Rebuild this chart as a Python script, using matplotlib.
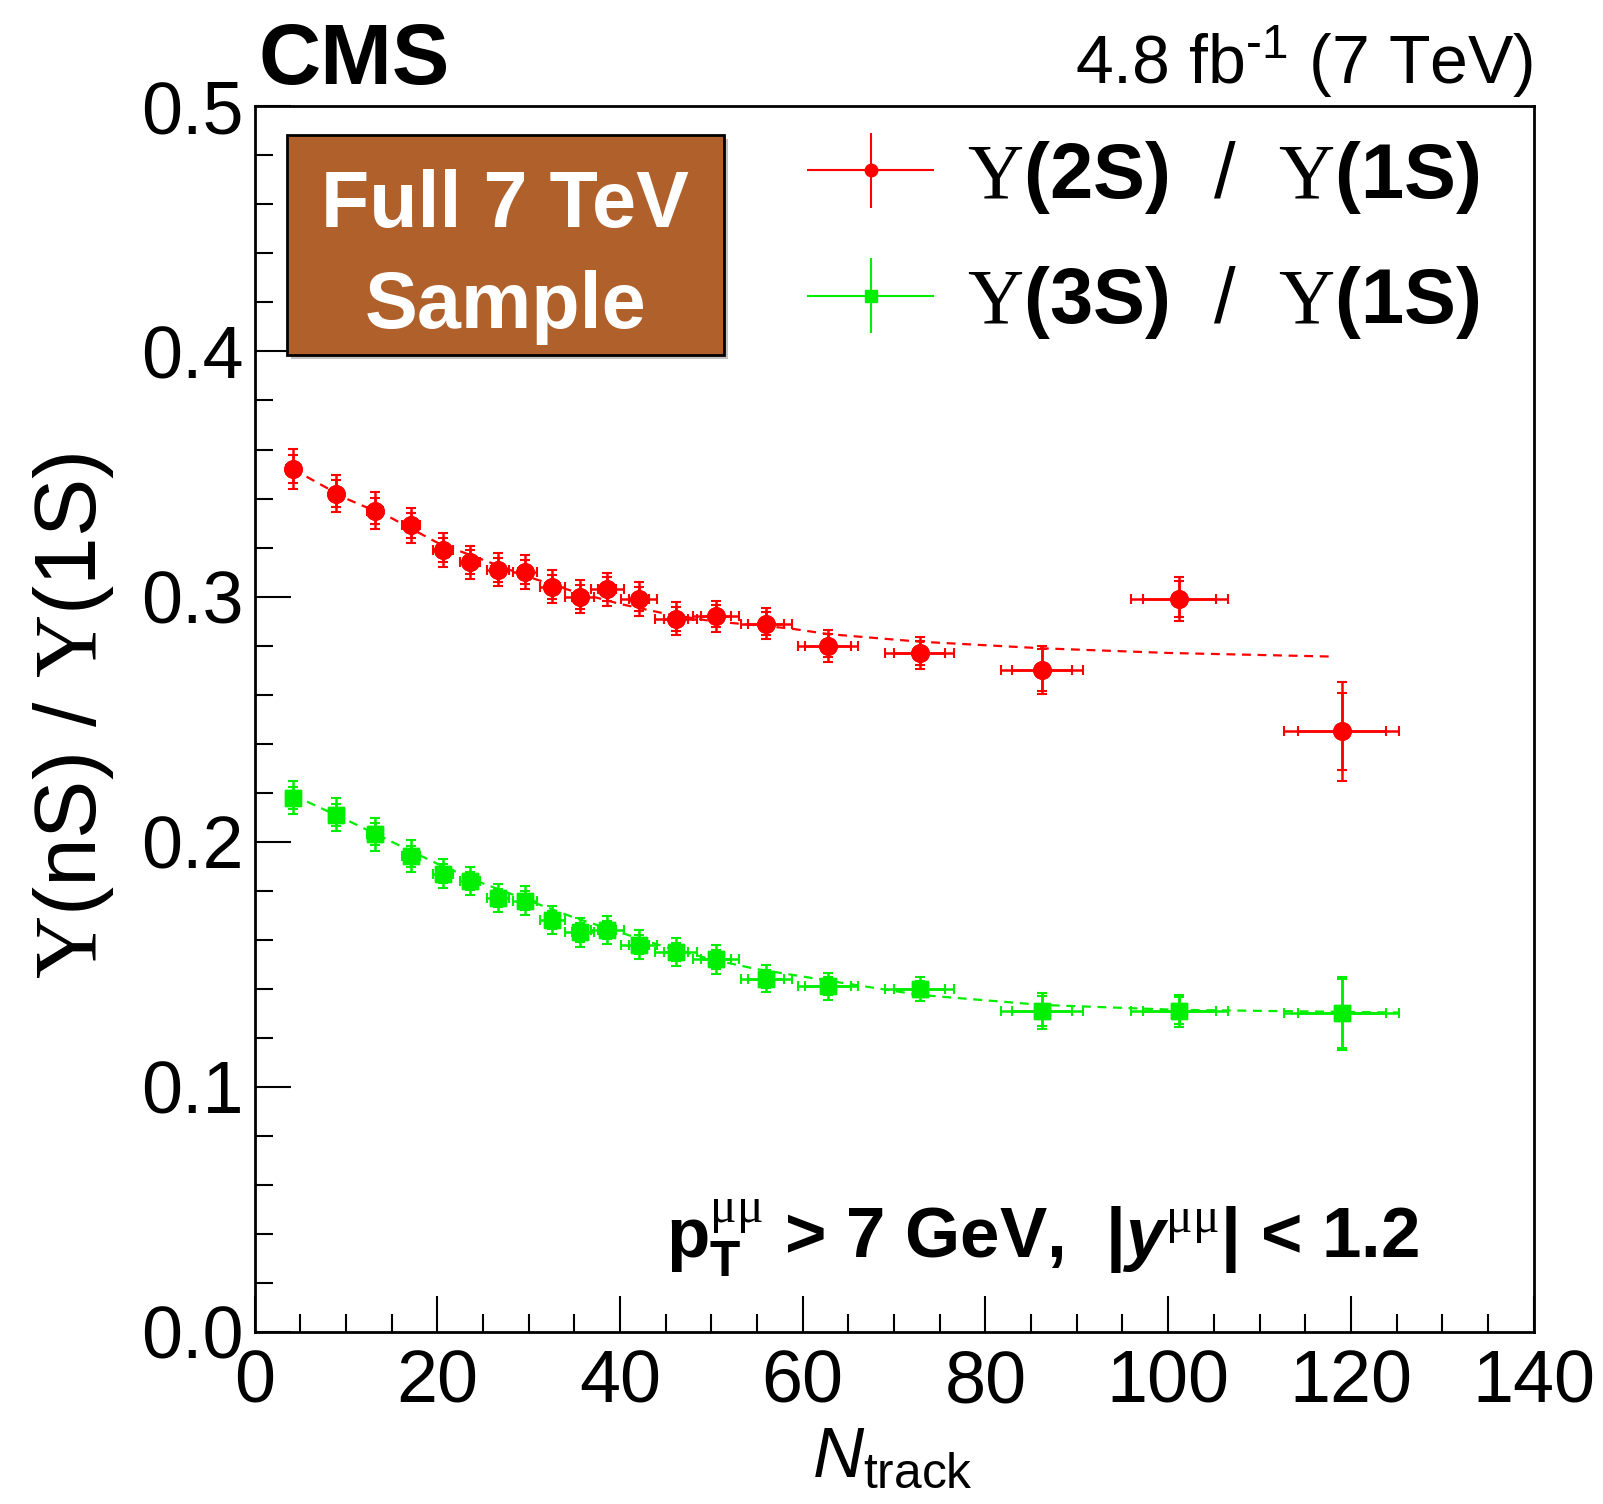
import numpy as np
import matplotlib
matplotlib.use("Agg")
import matplotlib.pyplot as plt
from matplotlib.patches import Rectangle
from matplotlib.legend_handler import HandlerErrorbar
from matplotlib.ticker import MultipleLocator, FormatStrFormatter

plt.rcParams["font.family"] = ["Liberation Sans", "DejaVu Sans"]
plt.rcParams["mathtext.fontset"] = "custom"
plt.rcParams["mathtext.rm"] = "Liberation Serif"
plt.rcParams["mathtext.bf"] = "Liberation Sans:bold"
plt.rcParams["mathtext.it"] = "Liberation Sans:italic"
plt.rcParams["mathtext.sf"] = "Liberation Sans"
plt.rcParams["mathtext.bfit"] = "Liberation Sans:italic:bold"

# N_track bin centres (shared by both ratios)
ntrack = [4.2, 8.9, 13.2, 17.1, 20.6, 23.6, 26.6, 29.6, 32.6, 35.6,
          38.6, 42.1, 46.1, 50.5, 56.0, 62.8, 72.8, 86.2, 101.2, 119.0]
ntrack_err_out = [0.8, 0.8, 0.9, 1.0, 1.1, 1.1, 1.2, 1.3, 1.4, 1.6,
                  1.8, 2.0, 2.3, 2.5, 2.8, 3.3, 3.8, 4.5, 5.3, 6.3]
ntrack_err_in = [0.5, 0.5, 0.5, 0.6, 0.6, 0.7, 0.7, 0.8, 0.8, 0.9,
                 1.0, 1.1, 1.3, 1.6, 2.0, 2.5, 2.8, 3.3, 4.0, 4.8]

# Y(2S)/Y(1S)
r21 = [0.352, 0.342, 0.335, 0.329, 0.319, 0.314, 0.311, 0.310, 0.304, 0.300,
       0.303, 0.299, 0.291, 0.292, 0.289, 0.280, 0.277, 0.270, 0.299, 0.245]
r21_tot = [0.0082, 0.0075, 0.0075, 0.0072, 0.0070, 0.0068, 0.0068, 0.0068, 0.0068, 0.0068,
           0.0068, 0.0068, 0.0068, 0.0063, 0.0063, 0.0065, 0.0067, 0.0099, 0.0088, 0.0203]
r21_stat = [0.0058, 0.0054, 0.0054, 0.0052, 0.0050, 0.0049, 0.0049, 0.0049, 0.0049, 0.0049,
            0.0049, 0.0049, 0.0049, 0.0046, 0.0046, 0.0048, 0.0050, 0.0085, 0.0075, 0.0158]

# Y(3S)/Y(1S)
r31 = [0.218, 0.211, 0.203, 0.194, 0.187, 0.184, 0.177, 0.176, 0.168, 0.163,
       0.164, 0.158, 0.155, 0.152, 0.144, 0.141, 0.140, 0.131, 0.131, 0.130]
r31_tot = [0.0069, 0.0068, 0.0068, 0.0065, 0.0060, 0.0058, 0.0058, 0.0058, 0.0058, 0.0058,
           0.0058, 0.0058, 0.0058, 0.0058, 0.0055, 0.0055, 0.0050, 0.0073, 0.0065, 0.0150]
r31_stat = [0.0045, 0.0045, 0.0045, 0.0043, 0.0040, 0.0038, 0.0038, 0.0038, 0.0038, 0.0038,
            0.0038, 0.0038, 0.0038, 0.0038, 0.0036, 0.0036, 0.0033, 0.0060, 0.0055, 0.0140]

# dashed fit curves
fit21_x = [4.2, 10, 15, 20, 25, 30, 35, 40, 45, 50, 58.6, 62.8, 72.8, 86.2, 100, 118.2]
fit21_y = [0.352, 0.340, 0.332, 0.322, 0.315, 0.308, 0.302, 0.297, 0.293, 0.290,
           0.287, 0.2847, 0.2816, 0.2789, 0.277, 0.2755]
fit31_x = [4.2, 10, 15, 20, 25, 30, 35, 40, 45, 50, 55, 60, 65, 72.8, 86.2, 101, 125.2]
fit31_y = [0.219, 0.209, 0.200, 0.191, 0.183, 0.176, 0.169, 0.163, 0.157, 0.152,
           0.148, 0.145, 0.142, 0.1375, 0.1334, 0.1314, 0.1303]

RED = "#ff0000"
GREEN = "#00ee00"

fig = plt.figure(figsize=(16.03, 15.04), dpi=100)
ax = fig.add_axes([0.1588, 0.1144, 0.7979, 0.8149])

ax.plot(fit21_x, fit21_y, ls=(0, (4, 3)), color=RED, lw=1.6)
ax.plot(fit31_x, fit31_y, ls=(0, (4, 3)), color=GREEN, lw=1.6)

for y, tot, stat, col, mk, ms in [(r21, r21_tot, r21_stat, RED, "o", 12.5),
                                  (r31, r31_tot, r31_stat, GREEN, "s", 11)]:
    ax.errorbar(ntrack, y, xerr=ntrack_err_out, yerr=tot, fmt=mk, color=col, ms=ms,
                elinewidth=1.8, capsize=3.5, capthick=1.5)
    ax.errorbar(ntrack, y, xerr=ntrack_err_in, yerr=stat, fmt=mk, color=col, ms=ms,
                elinewidth=1.8, capsize=3.5, capthick=1.5)

# legend proxies (no caps, like the original)
h21 = ax.errorbar([np.nan], [np.nan], xerr=[1], yerr=[1], fmt="o", color=RED, ms=9,
                  elinewidth=1.5, capsize=0,
                  label=r"$\mathrm{Υ}\mathbf{(2S)}$  $\mathsf{/}$  $\mathrm{Υ}\mathbf{(1S)}$")
h31 = ax.errorbar([np.nan], [np.nan], xerr=[1], yerr=[1], fmt="s", color=GREEN, ms=9,
                  elinewidth=1.5, capsize=0,
                  label=r"$\mathrm{Υ}\mathbf{(3S)}$  $\mathsf{/}$  $\mathrm{Υ}\mathbf{(1S)}$")
hm = HandlerErrorbar(xerr_size=0.82, yerr_size=0.48)
ax.legend(handles=[h21, h31], handler_map={h21: hm, h31: hm},
          loc="upper right", bbox_to_anchor=(0.9815, 0.999), frameon=False,
          prop={"family": "Liberation Sans", "weight": "bold", "size": 56},
          handlelength=1.67, handletextpad=0.4, labelspacing=0.62, borderaxespad=0)

ax.set_xlim(0, 140)
ax.set_ylim(0, 0.5)
ax.xaxis.set_major_locator(MultipleLocator(20))
ax.xaxis.set_minor_locator(MultipleLocator(5))
ax.yaxis.set_major_locator(MultipleLocator(0.1))
ax.yaxis.set_minor_locator(MultipleLocator(0.02))
ax.yaxis.set_major_formatter(FormatStrFormatter("%.1f"))
ax.tick_params(which="both", direction="in", top=False, right=False, width=1.5)
ax.tick_params(which="major", length=26, labelsize=53)
ax.tick_params(which="minor", length=13)
ax.tick_params(axis="x", which="major", pad=12)
ax.tick_params(axis="y", which="major", pad=8)
for s in ax.spines.values():
    s.set_linewidth(2)

# "Full 7 TeV Sample" box with a little shadow
ax.add_patch(Rectangle((0.0283, 0.7936), 0.3417, 0.1795, transform=ax.transAxes,
                       facecolor="#888888", edgecolor="none", alpha=0.5, zorder=4))
ax.add_patch(Rectangle((0.0253, 0.797), 0.3417, 0.1796, transform=ax.transAxes,
                       facecolor="#b0602b", edgecolor="black", lw=2, zorder=5))
ax.text(0.196, 0.918, "Full 7 TeV", transform=ax.transAxes, ha="center", va="center",
        color="white", fontsize=57, fontweight="bold", zorder=6)
ax.text(0.196, 0.836, "Sample", transform=ax.transAxes, ha="center", va="center",
        color="white", fontsize=57, fontweight="bold", zorder=6)

ax.text(0.322, 0.0596,
        r"$\mathbf{p}_{\mathbf{T}}^{\mathrm{μμ}}$ > 7 GeV,  |$\mathbfit{y}^{\mathrm{μμ}}$| < 1.2",
        transform=ax.transAxes, ha="left", va="baseline", fontsize=51, fontweight="bold")

fig.text(0.161, 0.944, "CMS", ha="left", va="baseline", fontsize=62, fontweight="bold")
fig.text(0.9567, 0.944, r"4.8 fb$^{\mathsf{‐1}}$ (7 TeV)", ha="right", va="baseline",
         fontsize=49)

fig.text(0.046, 0.524, r"$\mathrm{Υ}$(nS) / $\mathrm{Υ}$(1S)", rotation=90,
         ha="center", va="center", fontsize=63)
fig.text(0.607, 0.018, r"$\mathit{N}_{\mathsf{track}}$", ha="right", va="baseline",
         fontsize=51)

fig.savefig("out.png", dpi=100)
